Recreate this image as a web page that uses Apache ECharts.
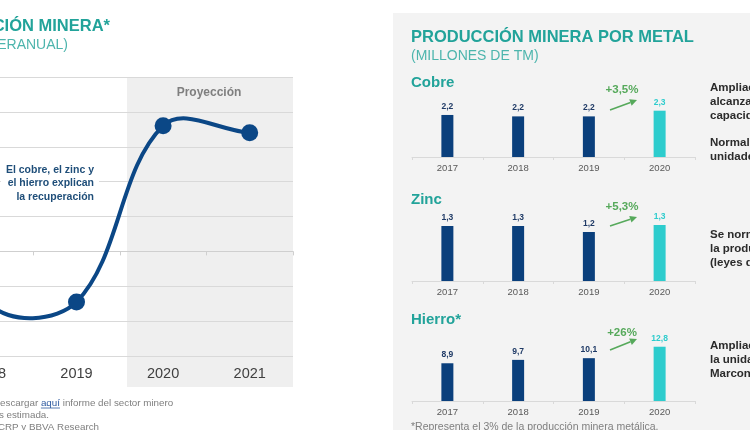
<!DOCTYPE html>
<html><head><meta charset="utf-8">
<script src="https://cdn.jsdelivr.net/npm/echarts@6/dist/echarts.min.js"></script>
<style>html,body{margin:0;padding:0;background:#fff;overflow:hidden;width:750px;height:430px;position:relative}
#c{position:absolute;left:-140px;top:0;width:890px;height:430px}</style>
</head><body><div id="c"></div>
<script>
// ---- data ----
const lineYears = ['2017', '2018', '2019', '2020', '2021'];
const lineGrowth = [4.2, -1.5, -1.45, 3.6, 3.4];
const barYears = ['2017', '2018', '2019', '2020'];
const cobre = [2.22, 2.20, 2.20, 2.28];
const zinc = [1.30, 1.30, 1.24, 1.31];
const hierro = [8.9, 9.7, 10.1, 12.8];
const panelNames = ['Cobre', 'Zinc', 'Hierro*'];
const growthLabels = ['+3,5%', '+5,3%', '+26%'];
const sideNotes = [
  ['Ampliación de Toquepala', 'alcanzaría su máxima', 'capacidad'],
  ['Normalización de', 'unidades mineras'],
  ['Se normalizaría', 'la producción', '(leyes de mineral)'],
  ['Ampliación de', 'la unidad', 'Marcona']
];

// ---- styles ----
const OX = 140; // container is shifted left so the first categories fall off-canvas
const F = '"Liberation Sans", Arial, sans-serif';
const TEAL = '#22a39a', TEAL2 = '#4db5ad', NAVY = '#0a3f7c', LINEC = '#0b4786', AQUA = '#2dcccd', GREEN = '#56a95b';
const GRIDC = '#d9d9d9';
const SMOOTH = 0.37;

const chart = echarts.init(document.getElementById('c'), null, {renderer: 'canvas', width: 890, height: 430});

const fmt = v => v.toFixed(1).replace('.', ',');

const panels = [
  {vals: cobre, bottom: 157, k: 71.25, min: 1.63, max: 2.45},
  {vals: zinc, bottom: 281, k: 100, min: 0.75, max: 1.45},
  {vals: hierro, bottom: 401, k: 4.24, min: 0, max: 14}
];

const grids = [{left: 0, width: 433, top: 77, height: 279}];
const xAxes = [
  {gridIndex: 0, type: 'category', data: lineYears, position: 'bottom',
   axisLine: {show: false, onZero: false}, axisTick: {show: false},
   axisLabel: {fontSize: 14.5, color: '#404040', fontFamily: F, margin: 10}},
  {gridIndex: 0, type: 'category', data: lineYears, position: 'bottom',
   axisLine: {show: true, onZero: true, lineStyle: {color: '#cfcfcf', width: 1}},
   axisTick: {show: true, length: 4, interval: 0, lineStyle: {color: '#cfcfcf'}},
   axisLabel: {show: false}}
];
const yAxes = [
  {gridIndex: 0, type: 'value', min: -3, max: 5, interval: 1,
   axisLabel: {show: false}, axisLine: {show: false}, axisTick: {show: false},
   splitLine: {show: true, lineStyle: {color: GRIDC, width: 1}}}
];

// smooth curve (spreadsheet-style, control points not clamped) drawn through the axis scales
function renderCurve(params, api) {
  const n = params.dataInsideLength !== undefined ? params.dataInsideLength : lineGrowth.length;
  const i = params.dataIndexInside;
  const p = api.coord([api.value(0), api.value(1)]);
  const children = [];
  if (i === 0) {
    const pts = [];
    for (let k = 0; k < n; k++) pts.push(api.coord([api.value(0, k), api.value(1, k)]));
    const cps = pts.map((pt, k) => {
      const prev = pts[Math.max(k - 1, 0)], next = pts[Math.min(k + 1, n - 1)];
      const vx = next[0] - prev[0], vy = next[1] - prev[1];
      const d0 = Math.hypot(pt[0] - prev[0], pt[1] - prev[1]);
      const d1 = Math.hypot(next[0] - pt[0], next[1] - pt[1]);
      const r = (d0 + d1) ? d1 / (d0 + d1) : 0.5;
      return {
        inX: pt[0] - vx * SMOOTH * (1 - r), inY: pt[1] - vy * SMOOTH * (1 - r),
        outX: pt[0] + vx * SMOOTH * r, outY: pt[1] + vy * SMOOTH * r
      };
    });
    for (let k = 0; k < n - 1; k++) {
      children.push({type: 'bezierCurve', shape: {
        x1: pts[k][0], y1: pts[k][1], x2: pts[k + 1][0], y2: pts[k + 1][1],
        cpx1: cps[k].outX, cpy1: cps[k].outY, cpx2: cps[k + 1].inX, cpy2: cps[k + 1].inY},
        style: {stroke: LINEC, lineWidth: 4, fill: null, lineCap: 'round'}});
    }
  }
  children.push({type: 'circle', shape: {cx: p[0], cy: p[1], r: 8.5}, style: {fill: LINEC}});
  return {type: 'group', children: children};
}

const series = [
  {type: 'custom', xAxisIndex: 0, yAxisIndex: 0, z: 5,
   data: lineGrowth.map((v, i) => [i, v]), renderItem: renderCurve}
];

panels.forEach((p, i) => {
  const h = p.k * (p.max - p.min);
  grids.push({left: 412 + OX, width: 283, top: p.bottom - h, height: h});
  xAxes.push({gridIndex: i + 1, type: 'category', data: barYears,
    axisLine: {show: true, lineStyle: {color: GRIDC}},
    axisTick: {show: true, length: 3, interval: 0, lineStyle: {color: GRIDC}},
    axisLabel: {fontSize: 9.5, color: '#595959', fontFamily: F, margin: 6}});
  yAxes.push({gridIndex: i + 1, type: 'value', min: p.min, max: p.max, show: false,
    splitLine: {show: false}});
  series.push({type: 'bar', xAxisIndex: xAxes.length - 1, yAxisIndex: yAxes.length - 1, barWidth: 12,
    data: p.vals.map((v, j) => ({value: v,
      itemStyle: {color: j === p.vals.length - 1 ? AQUA : NAVY},
      label: {color: j === p.vals.length - 1 ? AQUA : '#1f3a66'}})),
    label: {show: true, position: 'top', distance: 4, fontSize: 8.5, fontWeight: 'bold',
      fontFamily: F, formatter: q => fmt(q.value)}});
});

// ---- graphic annotations (page coordinates + OX) ----
const g = [];
const txt = (x, y, text, font, fill, align) => g.push({type: 'text', x: x + OX, y: y,
  style: {text: text, font: font, fill: fill, align: align || 'left', verticalAlign: 'middle'}});

g.push({type: 'rect', shape: {x: 393 + OX, y: 13, width: 400, height: 430}, style: {fill: '#f3f3f3'}, z: -10});
g.push({type: 'rect', shape: {x: 127 + OX, y: 77, width: 166, height: 310}, style: {fill: '#efefef'}, z: -9});

txt(110, 26, 'PRODUCCIÓN MINERA*', 'bold 16.5px ' + F, TEAL, 'right');
txt(68, 45, '(VAR. % INTERANUAL)', '14px ' + F, TEAL2, 'right');
txt(209, 93, 'Proyección', 'bold 12px ' + F, '#7f7f7f', 'center');
g.push({type: 'text', x: 99 + OX, y: 183.5, z: 10, style: {
  text: 'El cobre, el zinc y\nel hierro explican\nla recuperación', font: 'bold 10.5px ' + F,
  fill: '#1f4e79', align: 'right', verticalAlign: 'middle', lineHeight: 13.5,
  backgroundColor: '#ffffff', padding: [3, 5, 3, 5]}});

const fnFont = '9.8px ' + F;
const ctx = document.createElement('canvas').getContext('2d');
ctx.font = fnFont;
const fx = -7;
const w1 = ctx.measureText('Descargar ').width, w2 = ctx.measureText('aquí').width;
txt(fx, 403, 'Descargar ', fnFont, '#7f7f7f', 'left');
txt(fx + w1, 403, 'aquí', fnFont, '#2d5aa0', 'left');
txt(fx + w1 + w2, 403, ' informe del sector minero', fnFont, '#7f7f7f', 'left');
g.push({type: 'line', shape: {x1: fx + w1 + OX, y1: 408, x2: fx + w1 + w2 + OX, y2: 408}, style: {stroke: '#2d5aa0', lineWidth: 0.8}});
txt(49, 415, '*Cifra de 2019 es estimada.', fnFont, '#7f7f7f', 'right');
txt(99, 427, 'Fuente: BCRP y BBVA Research', fnFont, '#7f7f7f', 'right');

txt(411, 37, 'PRODUCCIÓN MINERA POR METAL', 'bold 16.5px ' + F, TEAL, 'left');
txt(411, 56, '(MILLONES DE TM)', '14px ' + F, TEAL2, 'left');
const headY = [83, 200, 320];
panelNames.forEach((n, i) => txt(411, headY[i], n, 'bold 15px ' + F, TEAL, 'left'));

const arrows = [
  {t: [610, 110], h: [637, 100], ty: 90},
  {t: [610, 226], h: [637, 217], ty: 207},
  {t: [610, 350], h: [637, 339], ty: 333}
];
arrows.forEach((a, i) => {
  const dx = a.h[0] - a.t[0], dy = a.h[1] - a.t[1], L = Math.hypot(dx, dy);
  const ux = dx / L, uy = dy / L, hl = 7, hw = 3.5;
  const bx = a.h[0] - ux * hl, by = a.h[1] - uy * hl;
  g.push({type: 'line', shape: {x1: a.t[0] + OX, y1: a.t[1], x2: bx + OX, y2: by}, style: {stroke: GREEN, lineWidth: 1.6}});
  g.push({type: 'polygon', shape: {points: [[a.h[0] + OX, a.h[1]], [bx - uy * hw + OX, by + ux * hw], [bx + uy * hw + OX, by - ux * hw]]}, style: {fill: GREEN}});
  txt(622, a.ty, growthLabels[i], 'bold 11.5px ' + F, GREEN, 'center');
});

const noteY = [88, 143, 235, 346];
sideNotes.forEach((lines, i) => lines.forEach((l, j) =>
  txt(710, noteY[i] + j * 13.8, l, 'bold 11.5px ' + F, '#2b2b2b', 'left')));

txt(411, 427, '*Representa el 3% de la producción minera metálica.', '10.5px ' + F, '#7f7f7f', 'left');

chart.setOption({
  backgroundColor: '#ffffff',
  animation: false,
  grid: grids,
  xAxis: xAxes,
  yAxis: yAxes,
  series: series,
  graphic: {elements: g}
});
</script>
</body></html>
